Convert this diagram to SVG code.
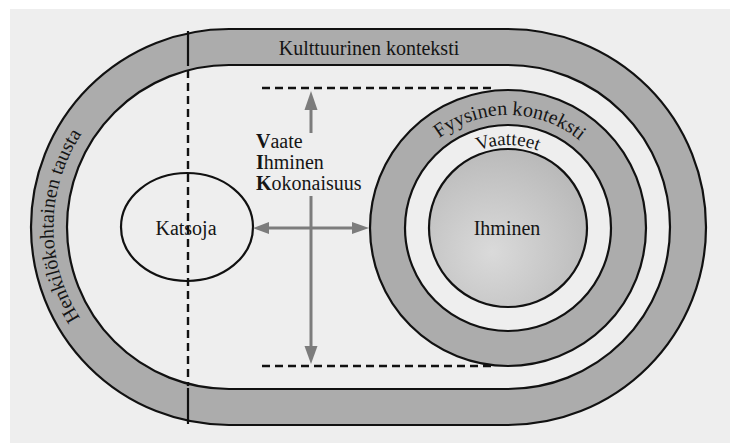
<svg xmlns="http://www.w3.org/2000/svg" width="730" height="443" viewBox="0 0 730 443">
  <defs>
    <style>
      .ln { stroke: #111; stroke-width: 2.2; }
      .band { fill: #acacac; }
      .light { fill: #eeeeee; }
      .txt { font-family: "Liberation Serif", "Times New Roman", serif; font-size: 20px; fill: #151515; }
      .dash { stroke: #111; stroke-width: 2.4; stroke-dasharray: 8 5; fill: none; }
      .arr { stroke: #7c7c7c; stroke-width: 3; fill: none; }
      .head { fill: #7c7c7c; }
    </style>
    <radialGradient id="ihm" cx="0.4" cy="0.65" r="0.7">
      <stop offset="0" stop-color="#dadada"/>
      <stop offset="1" stop-color="#b8b8b8"/>
    </radialGradient>
    <path id="pHenk" d="M 96.1 338.5 A 167 167 0 0 1 96.1 115.5"/>
    <path id="pFyys" d="M 395 228 A 113 113 0 0 1 621 228"/>
    <path id="pVaat" d="M 425 228 A 83 83 0 0 1 591 228"/>
  </defs>

  <rect x="0" y="0" width="730" height="443" fill="#ffffff"/>
  <rect x="10" y="9" width="720" height="434" fill="#eeeeee"/>

  <g id="konteksti">
    <path class="band ln" d="M 229 29 L 508 29 A 198 198 0 0 1 508 425 L 229 425 A 198 198 0 0 1 229 29 Z"/>
    <path class="light ln" d="M 229 65 L 508 65 A 162 162 0 0 1 508 389 L 229 389 A 162 162 0 0 1 229 65 Z"/>
    <line class="ln" x1="188" y1="31" x2="188" y2="66"/>
    <line class="ln" x1="188" y1="388" x2="188" y2="424"/>
    <text class="txt" x="369" y="55" text-anchor="middle">Kulttuurinen konteksti</text>
    <text class="txt"><textPath href="#pHenk" startOffset="50.5%" text-anchor="middle">Henkilökohtainen tausta</textPath></text>
  </g>

  <g id="fyysinen">
    <circle class="band ln" cx="508" cy="228" r="138"/>
    <text class="txt"><textPath href="#pFyys" startOffset="50.5%" text-anchor="middle">Fyysinen konteksti</textPath></text>
  </g>

  <g id="vaatteet">
    <circle class="light ln" cx="508" cy="228" r="103"/>
    <text class="txt" style="font-size:19px"><textPath href="#pVaat" startOffset="50%" text-anchor="middle">Vaatteet</textPath></text>
  </g>

  <g id="ihminen">
    <circle class="ln" fill="url(#ihm)" cx="508" cy="228" r="79"/>
    <text class="txt" x="507" y="235" text-anchor="middle">Ihminen</text>
  </g>

  <g id="katsoja">
    <ellipse class="light ln" cx="187" cy="227" rx="66" ry="54"/>
    <text class="txt" x="186" y="235" text-anchor="middle">Katsoja</text>
  </g>

  <g id="connectors">
    <line class="dash" x1="188" y1="70" x2="188" y2="386"/>
    <line class="dash" x1="262" y1="88" x2="493" y2="88"/>
    <line class="dash" x1="262" y1="366" x2="492" y2="366"/>
    <line class="arr" x1="311" y1="106" x2="311" y2="133"/>
    <line class="arr" x1="311" y1="196" x2="311" y2="348"/>
    <line class="arr" x1="266" y1="228" x2="355" y2="228"/>
    <polygon class="head" points="311,91 304.5,110 317.5,110"/>
    <polygon class="head" points="311,364 304.5,346 317.5,346"/>
    <polygon class="head" points="253,228 269,222 269,234"/>
    <polygon class="head" points="369,228 352,222 352,234"/>
  </g>

  <g id="vik">
    <text class="txt" x="256" y="148"><tspan font-weight="bold">V</tspan>aate</text>
    <text class="txt" x="256" y="169"><tspan font-weight="bold">I</tspan>hminen</text>
    <text class="txt" x="256" y="190"><tspan font-weight="bold">K</tspan>okonaisuus</text>
  </g>
</svg>
